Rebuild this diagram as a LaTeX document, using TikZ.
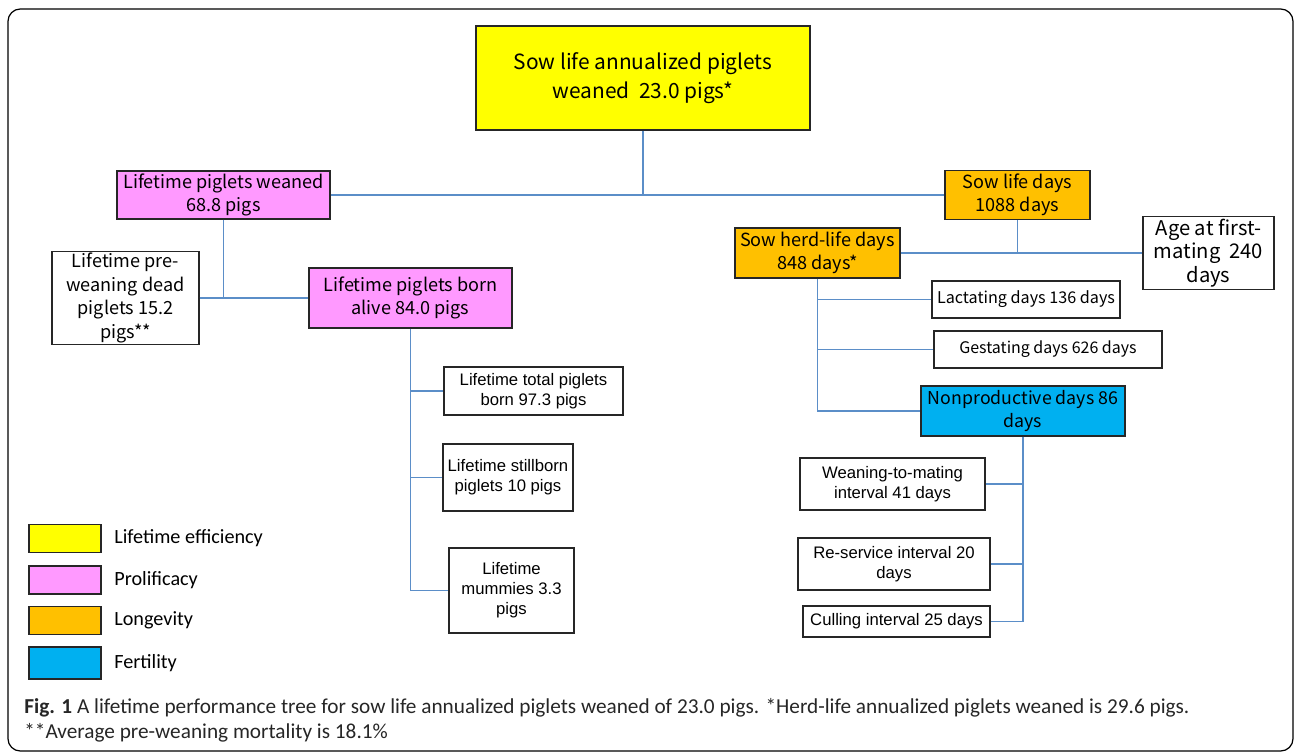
\documentclass[tikz,border=0pt]{standalone}
\usepackage{fontspec}
\setmainfont{Carlito}
\newfontfamily\gothic{Noto Sans CJK JP}
\newfontfamily\arial{Liberation Sans}
\definecolor{effic}{HTML}{FFFF00}
\definecolor{prolif}{HTML}{FF99FF}
\definecolor{longev}{HTML}{FFC000}
\definecolor{fertil}{HTML}{00B0F0}
\definecolor{linkblue}{HTML}{5B8EC8}
\definecolor{boxline}{HTML}{262626}
\begin{document}
\begin{tikzpicture}[x=0.02cm, y=-0.02cm]
    \tikzstyle{box} = [draw=boxline, line width=0.8pt, inner sep=1pt, align=center, fill=white]
    \tikzstyle{goth} = [box, font=\gothic\fontsize{10.3}{13.4}\selectfont]
    \tikzstyle{plain} = [box, font=\arial\fontsize{9.5}{11.3}\selectfont]
    \tikzstyle{link} = [draw=linkblue, line width=0.9pt]
    \tikzstyle{swatch} = [draw=boxline, line width=0.8pt, minimum width=1.44cm, minimum height=0.56cm]
    \tikzstyle{key} = [anchor=west, font=\fontsize{11.5}{13}\selectfont, inner sep=0pt]
    \useasboundingbox (0,0) rectangle (1295,753);
    \draw[rounded corners=7pt, line width=0.7pt] (8,9) rectangle (1293,751);
    % efficiency and prolificacy
    \node[goth, fill=effic, minimum width=6.68cm, minimum height=2.08cm,
      font=\gothic\fontsize{11.9}{16.4}\selectfont] (top) at (643,78)
      {Sow life annualized piglets\\weaned\ \ 23.0 pigs*};
    \node[goth, fill=prolif, minimum width=4.26cm, minimum height=0.96cm] (weaned) at (223.5,195)
      {Lifetime piglets weaned\\68.8 pigs};
    \node[goth, minimum width=2.94cm, minimum height=1.8cm] (dead) at (125.5,298)
      {Lifetime pre-\\weaning dead\\piglets 15.2\\pigs**};
    \node[goth, fill=prolif, minimum width=4.06cm, minimum height=1.2cm] (alive) at (410.5,298)
      {Lifetime piglets born\\alive 84.0 pigs};
    \node[plain, minimum width=3.58cm, minimum height=0.96cm] (total) at (533.5,391)
      {Lifetime total piglets\\born 97.3 pigs};
    \node[plain, minimum width=2.6cm, minimum height=1.34cm] (still) at (508,477.5)
      {Lifetime stillborn\\piglets 10 pigs};
    \node[plain, minimum width=2.5cm, minimum height=1.7cm] (mummy) at (511.5,590.5)
      {Lifetime\\mummies 3.3\\pigs};
    % longevity and fertility
    \node[goth, fill=longev, minimum width=2.9cm, minimum height=0.98cm] (lifedays) at (1017.5,195)
      {Sow life days\\1088 days};
    \node[goth, fill=longev, minimum width=3.3cm, minimum height=1.0cm] (herddays) at (817.5,253)
      {Sow herd-life days\\848 days*};
    \node[goth, minimum width=2.62cm, minimum height=1.46cm,
      font=\gothic\fontsize{11.5}{13.3}\selectfont] (firstmate) at (1208.5,253)
      {Age at first-\\mating\ \ 240\\days};
    \node[goth, minimum width=3.76cm, minimum height=0.74cm,
      font=\gothic\fontsize{9.2}{12}\selectfont] (lactate) at (1026,299.5)
      {Lactating days 136 days};
    \node[goth, minimum width=4.56cm, minimum height=0.74cm,
      font=\gothic\fontsize{9.1}{12}\selectfont] (gestate) at (1048,349.5)
      {Gestating days 626 days};
    \node[goth, fill=fertil, minimum width=4.08cm, minimum height=1.0cm,
      font=\gothic\fontsize{10.1}{13.4}\selectfont] (nonprod) at (1023,411)
      {Nonproductive days 86\\days};
    \node[plain, minimum width=3.7cm, minimum height=1.04cm] (wean2mate) at (892.5,484)
      {Weaning-to-mating\\interval 41 days};
    \node[plain, minimum width=3.84cm, minimum height=1.04cm] (reservice) at (894,564)
      {Re-service interval 20\\days};
    \node[plain, minimum width=3.74cm, minimum height=0.62cm] (culling) at (896.5,621.5)
      {Culling interval 25 days};
    % connectors
    \draw[link] (weaned.east) -- (lifedays.west);
    \draw[link] (top.south) -- (top.south |- lifedays.west);
    \draw[link] (weaned.south) |- (alive.west);
    \draw[link] (dead.east) -- (dead.east -| weaned.south);
    \draw[link] (alive.south) |- (mummy.west);
    \draw[link] (alive.south |- total.west) -- (total.west);
    \draw[link] (alive.south |- still.west) -- (still.west);
    \draw[link] (herddays.east) -- (firstmate.west);
    \draw[link] (lifedays.south) -- (lifedays.south |- firstmate.west);
    \draw[link] (herddays.south) |- (nonprod.west);
    \draw[link] (herddays.south |- lactate.west) -- (lactate.west);
    \draw[link] (herddays.south |- gestate.west) -- (gestate.west);
    \draw[link] (nonprod.south) |- (culling.east);
    \draw[link] (nonprod.south |- wean2mate.east) -- (wean2mate.east);
    \draw[link] (nonprod.south |- reservice.east) -- (reservice.east);
    % legend
    \node[swatch, fill=effic] (keyeffic) at (65,538.5) {};
    \node[swatch, fill=prolif] (keyprolif) at (65,580) {};
    \node[swatch, fill=longev] (keylongev) at (65,620.5) {};
    \node[swatch, fill=fertil, minimum height=0.64cm] (keyfertil) at (65,663) {};
    \node[key] (labeffic) at (114,538.5) {Lifetime efficiency};
    \node[key] (labprolif) at (114,580) {Prolificacy};
    \node[key] (lablongev) at (114,620.5) {Longevity};
    \node[key] (labfertil) at (114,663) {Fertility};
    % caption
    \node[anchor=base west, inner sep=0pt, font=\fontsize{12.1}{14}\selectfont, text=black!85] (cap1) at (24,713)
      {\textbf{Fig. 1} A lifetime performance tree for sow life annualized piglets weaned of 23.0 pigs. *Herd-life annualized piglets weaned is 29.6 pigs.};
    \node[anchor=base west, inner sep=0pt, font=\fontsize{12.1}{14}\selectfont, text=black!85] (cap2) at (24,738)
      {**Average pre-weaning mortality is 18.1\%};
\end{tikzpicture}
\end{document}
